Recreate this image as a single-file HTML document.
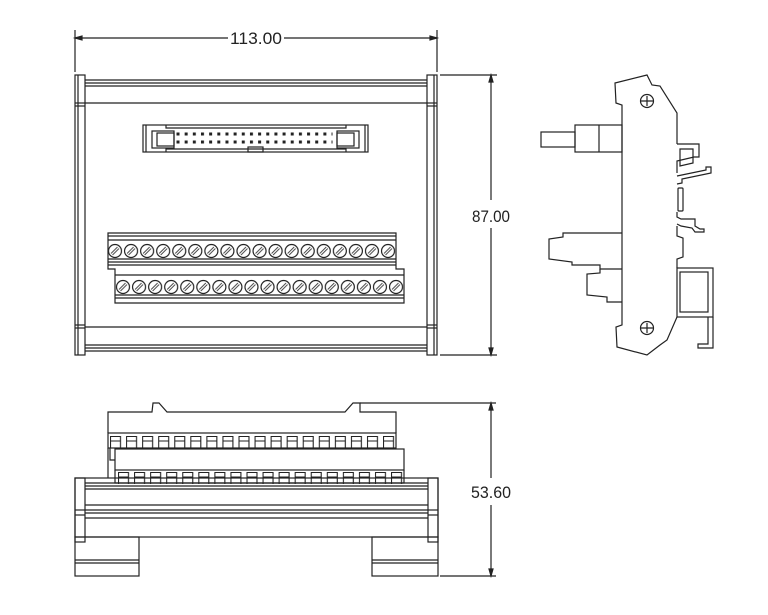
<!DOCTYPE html>
<html><head><meta charset="utf-8"><style>
html,body{margin:0;padding:0;background:#fff}
svg{display:block}
text{font-family:"Liberation Sans",sans-serif;font-size:17px;fill:#222}
</style></head><body>
<svg width="768" height="615" viewBox="0 0 768 615" xmlns="http://www.w3.org/2000/svg">
<defs>
<pattern id="scr1" x="107" y="243" width="16.06" height="16" patternUnits="userSpaceOnUse">
<circle cx="8" cy="8" r="6.5" fill="#fff" stroke="#222" stroke-width="1.2"/>
<path d="M4 10.5 L10.5 4 M5.5 12 L12 5.5" stroke="#444" stroke-width="0.9"/>
</pattern>
<pattern id="scr2" x="115" y="279" width="16.06" height="16" patternUnits="userSpaceOnUse">
<circle cx="8" cy="8" r="6.5" fill="#fff" stroke="#222" stroke-width="1.2"/>
<path d="M4 10.5 L10.5 4 M5.5 12 L12 5.5" stroke="#444" stroke-width="0.9"/>
</pattern>
<pattern id="pins" x="176.5" y="132.5" width="8.16" height="8" patternUnits="userSpaceOnUse">
<rect x="0" y="0" width="3" height="3" fill="#222"/>
</pattern>
<pattern id="op1" x="110" y="435" width="16.06" height="14" patternUnits="userSpaceOnUse">
<path d="M0.5 13 V1.5 H10.5 V13 M0.5 6 H10.5" fill="none" stroke="#222" stroke-width="1.1"/>
</pattern>
<pattern id="op2" x="118" y="471" width="16.06" height="14" patternUnits="userSpaceOnUse">
<path d="M0.5 13 V1.5 H10.5 V13 M0.5 6 H10.5" fill="none" stroke="#222" stroke-width="1.1"/>
</pattern>
</defs>
<g fill="none" stroke="#222" stroke-width="1.2">
<!-- dimension top -->
<line x1="75" y1="30" x2="75" y2="72"/><line x1="437" y1="30" x2="437" y2="72"/>
<line x1="75" y1="38" x2="228" y2="38"/><line x1="284" y1="38" x2="437" y2="38"/>
<path d="M75 38 l7 -2 v4z M437 38 l-7 -2 v4z" fill="#222"/>
<!-- dimension right -->
<line x1="440" y1="75" x2="497" y2="75"/><line x1="440" y1="355" x2="497" y2="355"/>
<line x1="491" y1="75" x2="491" y2="200"/><line x1="491" y1="228" x2="491" y2="355"/>
<path d="M491 75 l-2 7 h4z M491 355 l-2 -7 h4z" fill="#222"/>

<!-- front view -->
<rect x="75" y="75" width="10" height="280"/><rect x="427" y="75" width="10" height="280"/>
<line x1="75" y1="103" x2="85" y2="103"/><line x1="75" y1="106" x2="85" y2="106"/>
<line x1="75" y1="325" x2="85" y2="325"/><line x1="75" y1="328" x2="85" y2="328"/>
<line x1="427" y1="103" x2="437" y2="103"/><line x1="427" y1="106" x2="437" y2="106"/>
<line x1="427" y1="325" x2="437" y2="325"/><line x1="427" y1="328" x2="437" y2="328"/>
<line x1="78" y1="75" x2="78" y2="355"/><line x1="434" y1="75" x2="434" y2="355"/>
<line x1="85" y1="80" x2="427" y2="80"/><line x1="85" y1="83" x2="427" y2="83"/><line x1="85" y1="86" x2="427" y2="86"/>
<line x1="85" y1="103" x2="427" y2="103"/>
<line x1="85" y1="327" x2="427" y2="327"/>
<line x1="85" y1="345" x2="427" y2="345"/><line x1="85" y1="348" x2="427" y2="348"/><line x1="85" y1="351" x2="427" y2="351"/>
<!-- ribbon connector -->
<rect x="143" y="125" width="225" height="27"/>
<line x1="146" y1="125" x2="146" y2="152"/><line x1="365" y1="125" x2="365" y2="152"/>
<path d="M166 125 V128 H346 V125 M166 152 V149 H346 V152"/>
<rect x="152" y="131" width="22" height="17"/><rect x="157" y="133" width="17" height="13"/>
<rect x="337" y="131" width="22" height="17"/><rect x="337" y="133" width="17" height="13"/>
<rect x="248" y="147" width="15" height="5"/>
<rect x="176.5" y="132.5" width="156" height="12" fill="url(#pins)" stroke="none"/>
<!-- terminal blocks -->
<path d="M108 233 H396 V269 H404 V303 H115 V269 H108 Z"/>
<line x1="108" y1="236" x2="396" y2="236"/><line x1="108" y1="240" x2="396" y2="240"/>
<line x1="108" y1="259" x2="396" y2="259"/><line x1="108" y1="262" x2="396" y2="262"/>
<line x1="108" y1="265" x2="396" y2="265"/>
<line x1="115" y1="275" x2="404" y2="275"/><line x1="115" y1="295" x2="404" y2="295"/><line x1="115" y1="298" x2="404" y2="298"/>
<rect x="107" y="243" width="289" height="16" fill="url(#scr1)" stroke="none"/>
<rect x="115" y="279" width="289" height="16" fill="url(#scr2)" stroke="none"/>

<!-- side view -->
<path d="M677 144 V113 L660 86 L652 85 L647 75 L615 83 L616 103 L622 105 V325 L616 327 L617 347 L647 355 L660 345 L667 340 L677 317"/>
<circle cx="647" cy="101" r="6.5"/><path d="M640.5 101 H653.5 M647 96 V106"/>
<circle cx="647" cy="328" r="6.5"/><path d="M640.5 328 H653.5 M647 323 V333"/>
<rect x="575" y="125" width="47" height="27"/><line x1="599" y1="125" x2="599" y2="152"/>
<rect x="541" y="132" width="34" height="15"/>
<path d="M622 233 H563 V237 L549 239 V259 L572 262 V265 H600 V269 H622"/>
<path d="M600 269 V273 L587 274 V295 L607 297 V302 H622"/>
<!-- clip -->
<path d="M677 144 H699 V157 H694 L677 161 V173"/>
<path d="M680 149 H693 V163 L680 166 Z"/>
<path d="M677 176 L706 170 V167 H711 V173 L682 179 V183 L677 184"/>
<rect x="678" y="188" width="5" height="23" rx="1"/>
<path d="M677 212 V217 L681 219 H695 V226 L700 229 H704 V232 H695 L692 228 L681 226 L677 224"/>
<path d="M677 226 V236 L683 238 V257 L677 259 V268"/>
<rect x="677" y="268" width="36" height="49"/><rect x="680" y="272" width="28" height="40"/>
<path d="M708 317 V344 H698 V348 H713 V317"/>

<!-- bottom view -->
<path d="M108 433 V412 H152 L153 403 H159 L167 412 H345 L353 403 H360 V412 H396 V433"/>
<rect x="108" y="433" width="288" height="15"/>
<rect x="115" y="449" width="289" height="21"/>
<path d="M108 448 V478 M115 470 V483 H404 V470 M110 448 V460 H115"/>
<rect x="110" y="435" width="288" height="14" fill="url(#op1)" stroke="none"/>
<rect x="118" y="471" width="288" height="13" fill="url(#op2)" stroke="none"/>
<rect x="75" y="478" width="363" height="59"/>
<rect x="75" y="478" width="10" height="64"/><rect x="428" y="478" width="10" height="64"/>
<line x1="85" y1="483" x2="428" y2="483"/><line x1="85" y1="486" x2="428" y2="486"/><line x1="85" y1="489" x2="428" y2="489"/>
<line x1="85" y1="505" x2="428" y2="505"/><line x1="85" y1="510" x2="428" y2="510"/><line x1="85" y1="513" x2="428" y2="513"/>
<line x1="85" y1="518" x2="428" y2="518"/>
<line x1="75" y1="510" x2="85" y2="510"/><line x1="75" y1="515" x2="85" y2="515"/>
<line x1="428" y1="510" x2="438" y2="510"/><line x1="428" y1="515" x2="438" y2="515"/>
<rect x="75" y="537" width="64" height="39"/><line x1="75" y1="560" x2="139" y2="560"/><line x1="75" y1="563" x2="139" y2="563"/>
<rect x="372" y="537" width="66" height="39"/><line x1="372" y1="560" x2="438" y2="560"/><line x1="372" y1="563" x2="438" y2="563"/>
<!-- dimension 53.60 -->
<line x1="360" y1="403" x2="496" y2="403"/><line x1="440" y1="576" x2="496" y2="576"/>
<line x1="491" y1="403" x2="491" y2="478"/><line x1="491" y1="505" x2="491" y2="576"/>
<path d="M491 403 l-2 7 h4z M491 576 l-2 -7 h4z" fill="#222"/>
</g>
<text x="230" y="44" textLength="52" lengthAdjust="spacingAndGlyphs">113.00</text>
<text x="472" y="222" textLength="38" lengthAdjust="spacingAndGlyphs">87.00</text>
<text x="471" y="498" textLength="40" lengthAdjust="spacingAndGlyphs">53.60</text>
</svg>
</body></html>
